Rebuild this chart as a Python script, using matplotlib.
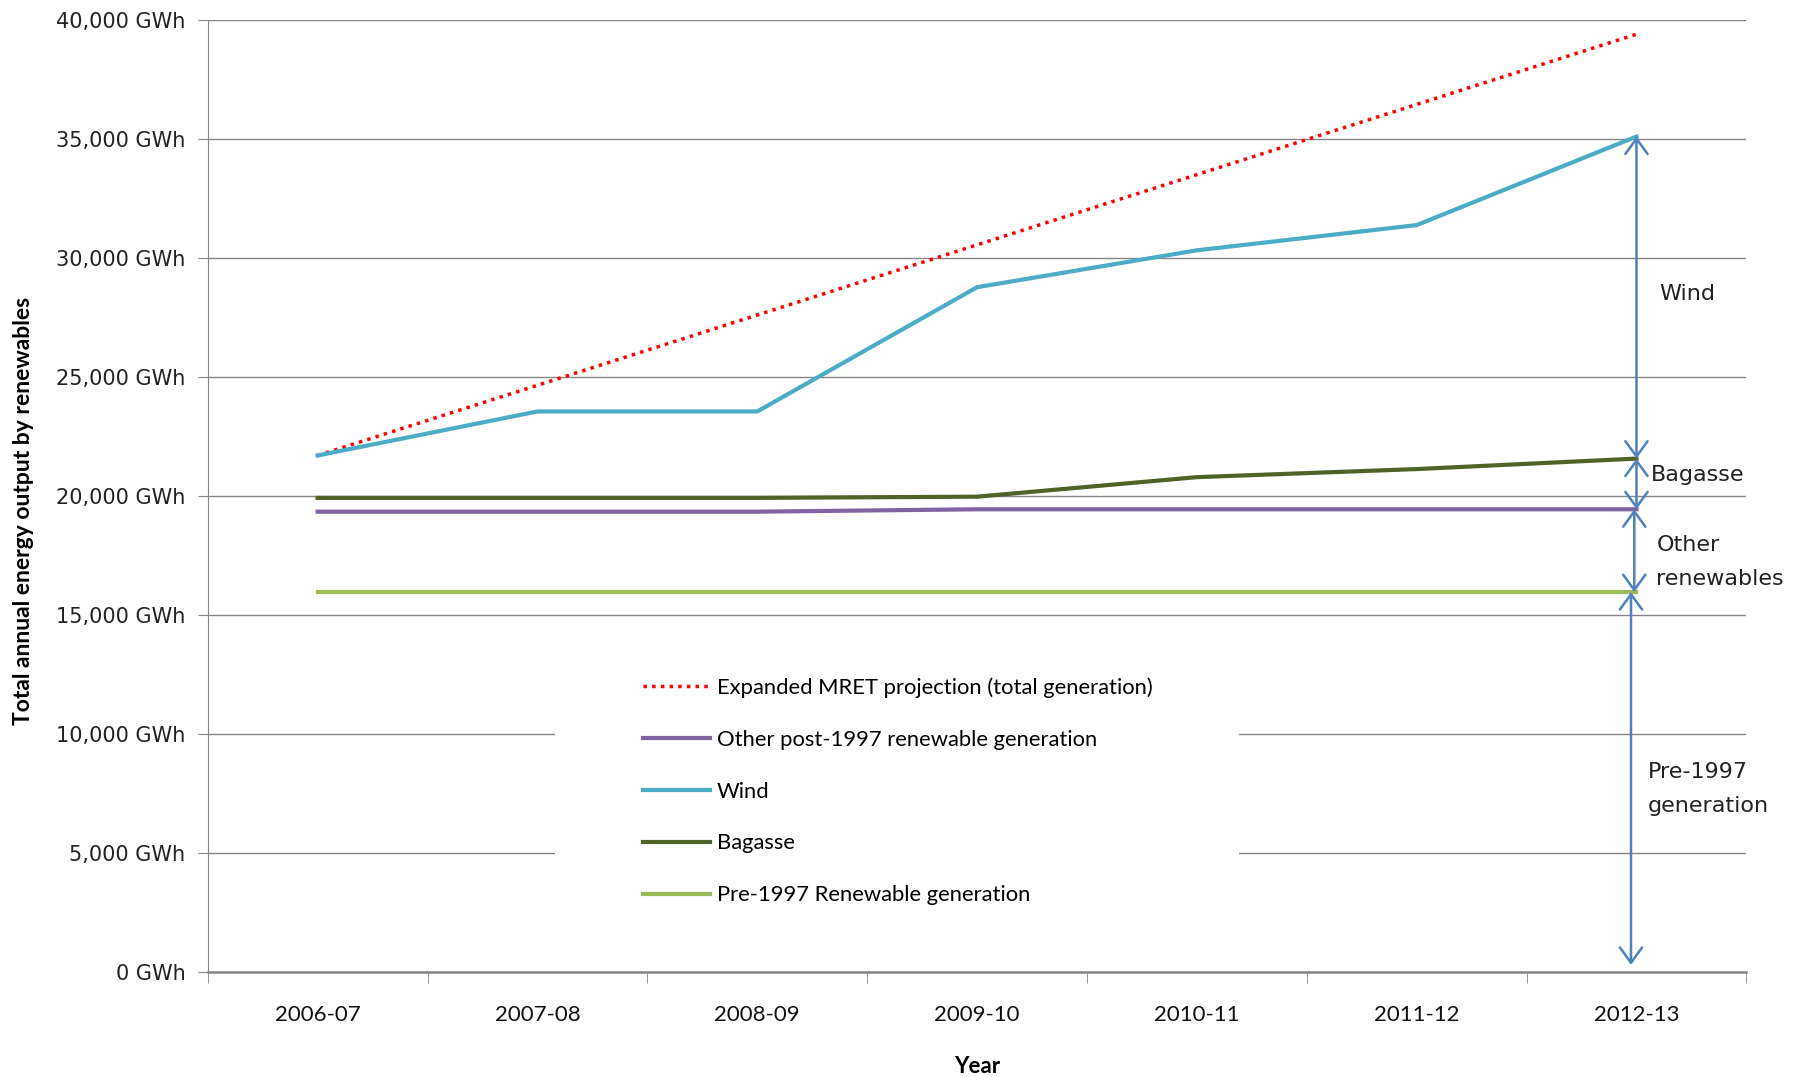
import matplotlib
matplotlib.use("Agg")
import matplotlib.pyplot as plt
from matplotlib.patches import Rectangle
from matplotlib.ticker import FuncFormatter

# financial years on the x axis
years = ["2006-07", "2007-08", "2008-09", "2009-10", "2010-11", "2011-12", "2012-13"]

# values in GWh
mret = [21700, 24650, 27600, 30550, 33500, 36450, 39400]
other_post = [19340, 19340, 19340, 19440, 19440, 19440, 19440]
wind = [21700, 23550, 23550, 28770, 30320, 31380, 35100]
bagasse = [19920, 19920, 19920, 19970, 20790, 21130, 21570]
pre1997 = [15960, 15960, 15960, 15960, 15960, 15960, 15960]

y_ticks = [0, 5000, 10000, 15000, 20000, 25000, 30000, 35000, 40000]

# right hand annotation labels
band_labels = ["Wind", "Bagasse", "Other\nrenewables", "Pre-1997\ngeneration"]

grey = "#868686"
arrow_col = "#4F81BD"

fig = plt.figure(figsize=(18.06, 10.77), dpi=100)
ax = fig.add_axes([0.115, 0.0975, 0.852, 0.884])

x = list(range(len(years)))

ax.plot(x, mret, color="#FF0000", linestyle=(0, (1, 1.5)), linewidth=2.5,
        label="Expanded MRET projection (total generation)", zorder=3)
ax.plot(x, other_post, color="#8064A2", linewidth=3,
        label="Other post-1997 renewable generation", zorder=3)
ax.plot(x, wind, color="#4BACC6", linewidth=3, label="Wind", zorder=3)
ax.plot(x, bagasse, color="#4F6228", linewidth=3, label="Bagasse", zorder=3)
ax.plot(x, pre1997, color="#9BBB59", linewidth=3,
        label="Pre-1997 Renewable generation", zorder=3)

ax.set_xlim(-0.5, 6.5)
ax.set_ylim(0, 40000)

# gridlines
ax.set_yticks(y_ticks)
ax.yaxis.set_major_formatter(FuncFormatter(lambda v, p: "{:,.0f} GWh".format(v)))
ax.grid(axis="y", color=grey, linewidth=1)
ax.set_axisbelow(True)

for s in ["top", "right"]:
    ax.spines[s].set_visible(False)
ax.spines["left"].set_color(grey)
ax.spines["bottom"].set_color(grey)
ax.spines["bottom"].set_linewidth(1.8)

ax.tick_params(axis="y", direction="out", length=7, color=grey, pad=9,
               labelsize=15, labelcolor="#222222")
for lab in ax.get_yticklabels():
    lab.set_fontfamily("DejaVu Sans")

ax.set_xticks(x)
ax.set_xticklabels(years, fontfamily="Lato", fontsize=16)
ax.set_xticks([i - 0.5 for i in range(len(years) + 1)], minor=True)
ax.tick_params(axis="x", which="major", length=0, pad=24, labelcolor="#111111")
ax.tick_params(axis="x", which="minor", length=8, color=grey)

ax.set_xlabel("Year", fontfamily="Lato", fontweight="bold", fontsize=16, labelpad=22)
ax.set_ylabel("Total annual energy output by renewables", fontfamily="Lato",
              fontweight="bold", fontsize=16.5)
ax.yaxis.set_label_coords(-0.113, 0.484)

# white box behind the legend hiding the gridlines
box = Rectangle((0.2256, 2100), 0.4444, 11600, transform=ax.get_yaxis_transform(),
                facecolor="white", edgecolor="none", zorder=1)
ax.add_patch(box)

leg = ax.legend(loc="upper left", bbox_to_anchor=(0.276, 0.321), frameon=False,
                prop={"family": "Lato", "size": 15.8}, handlelength=3.05,
                handletextpad=0.3, labelspacing=1.45, borderpad=0)

# arrows marking each band at 2012-13
arrow_x = [6.0, 6.0, 5.99, 5.975]
arrow_top = [wind[-1], bagasse[-1], other_post[-1], pre1997[-1]]
arrow_bot = [bagasse[-1], other_post[-1], pre1997[-1], 300]
for ax_x, top, bot in zip(arrow_x, arrow_top, arrow_bot):
    ax.annotate("", xy=(ax_x, bot), xytext=(ax_x, top),
                arrowprops=dict(arrowstyle="<->,head_length=0.55,head_width=0.4",
                                color=arrow_col, lw=1.8, shrinkA=0, shrinkB=0,
                                mutation_scale=20), zorder=4)

label_x = [6.103, 6.066, 6.091, 6.05]
label_y = [28480, 20890, 17215, 7690]
for txt, lx, ly in zip(band_labels, label_x, label_y):
    ax.text(lx, ly, txt, fontfamily="DejaVu Sans", fontsize=16, color="#222222",
            ha="left", va="center", linespacing=1.85, clip_on=False)

fig.savefig("out.png", dpi=100)
